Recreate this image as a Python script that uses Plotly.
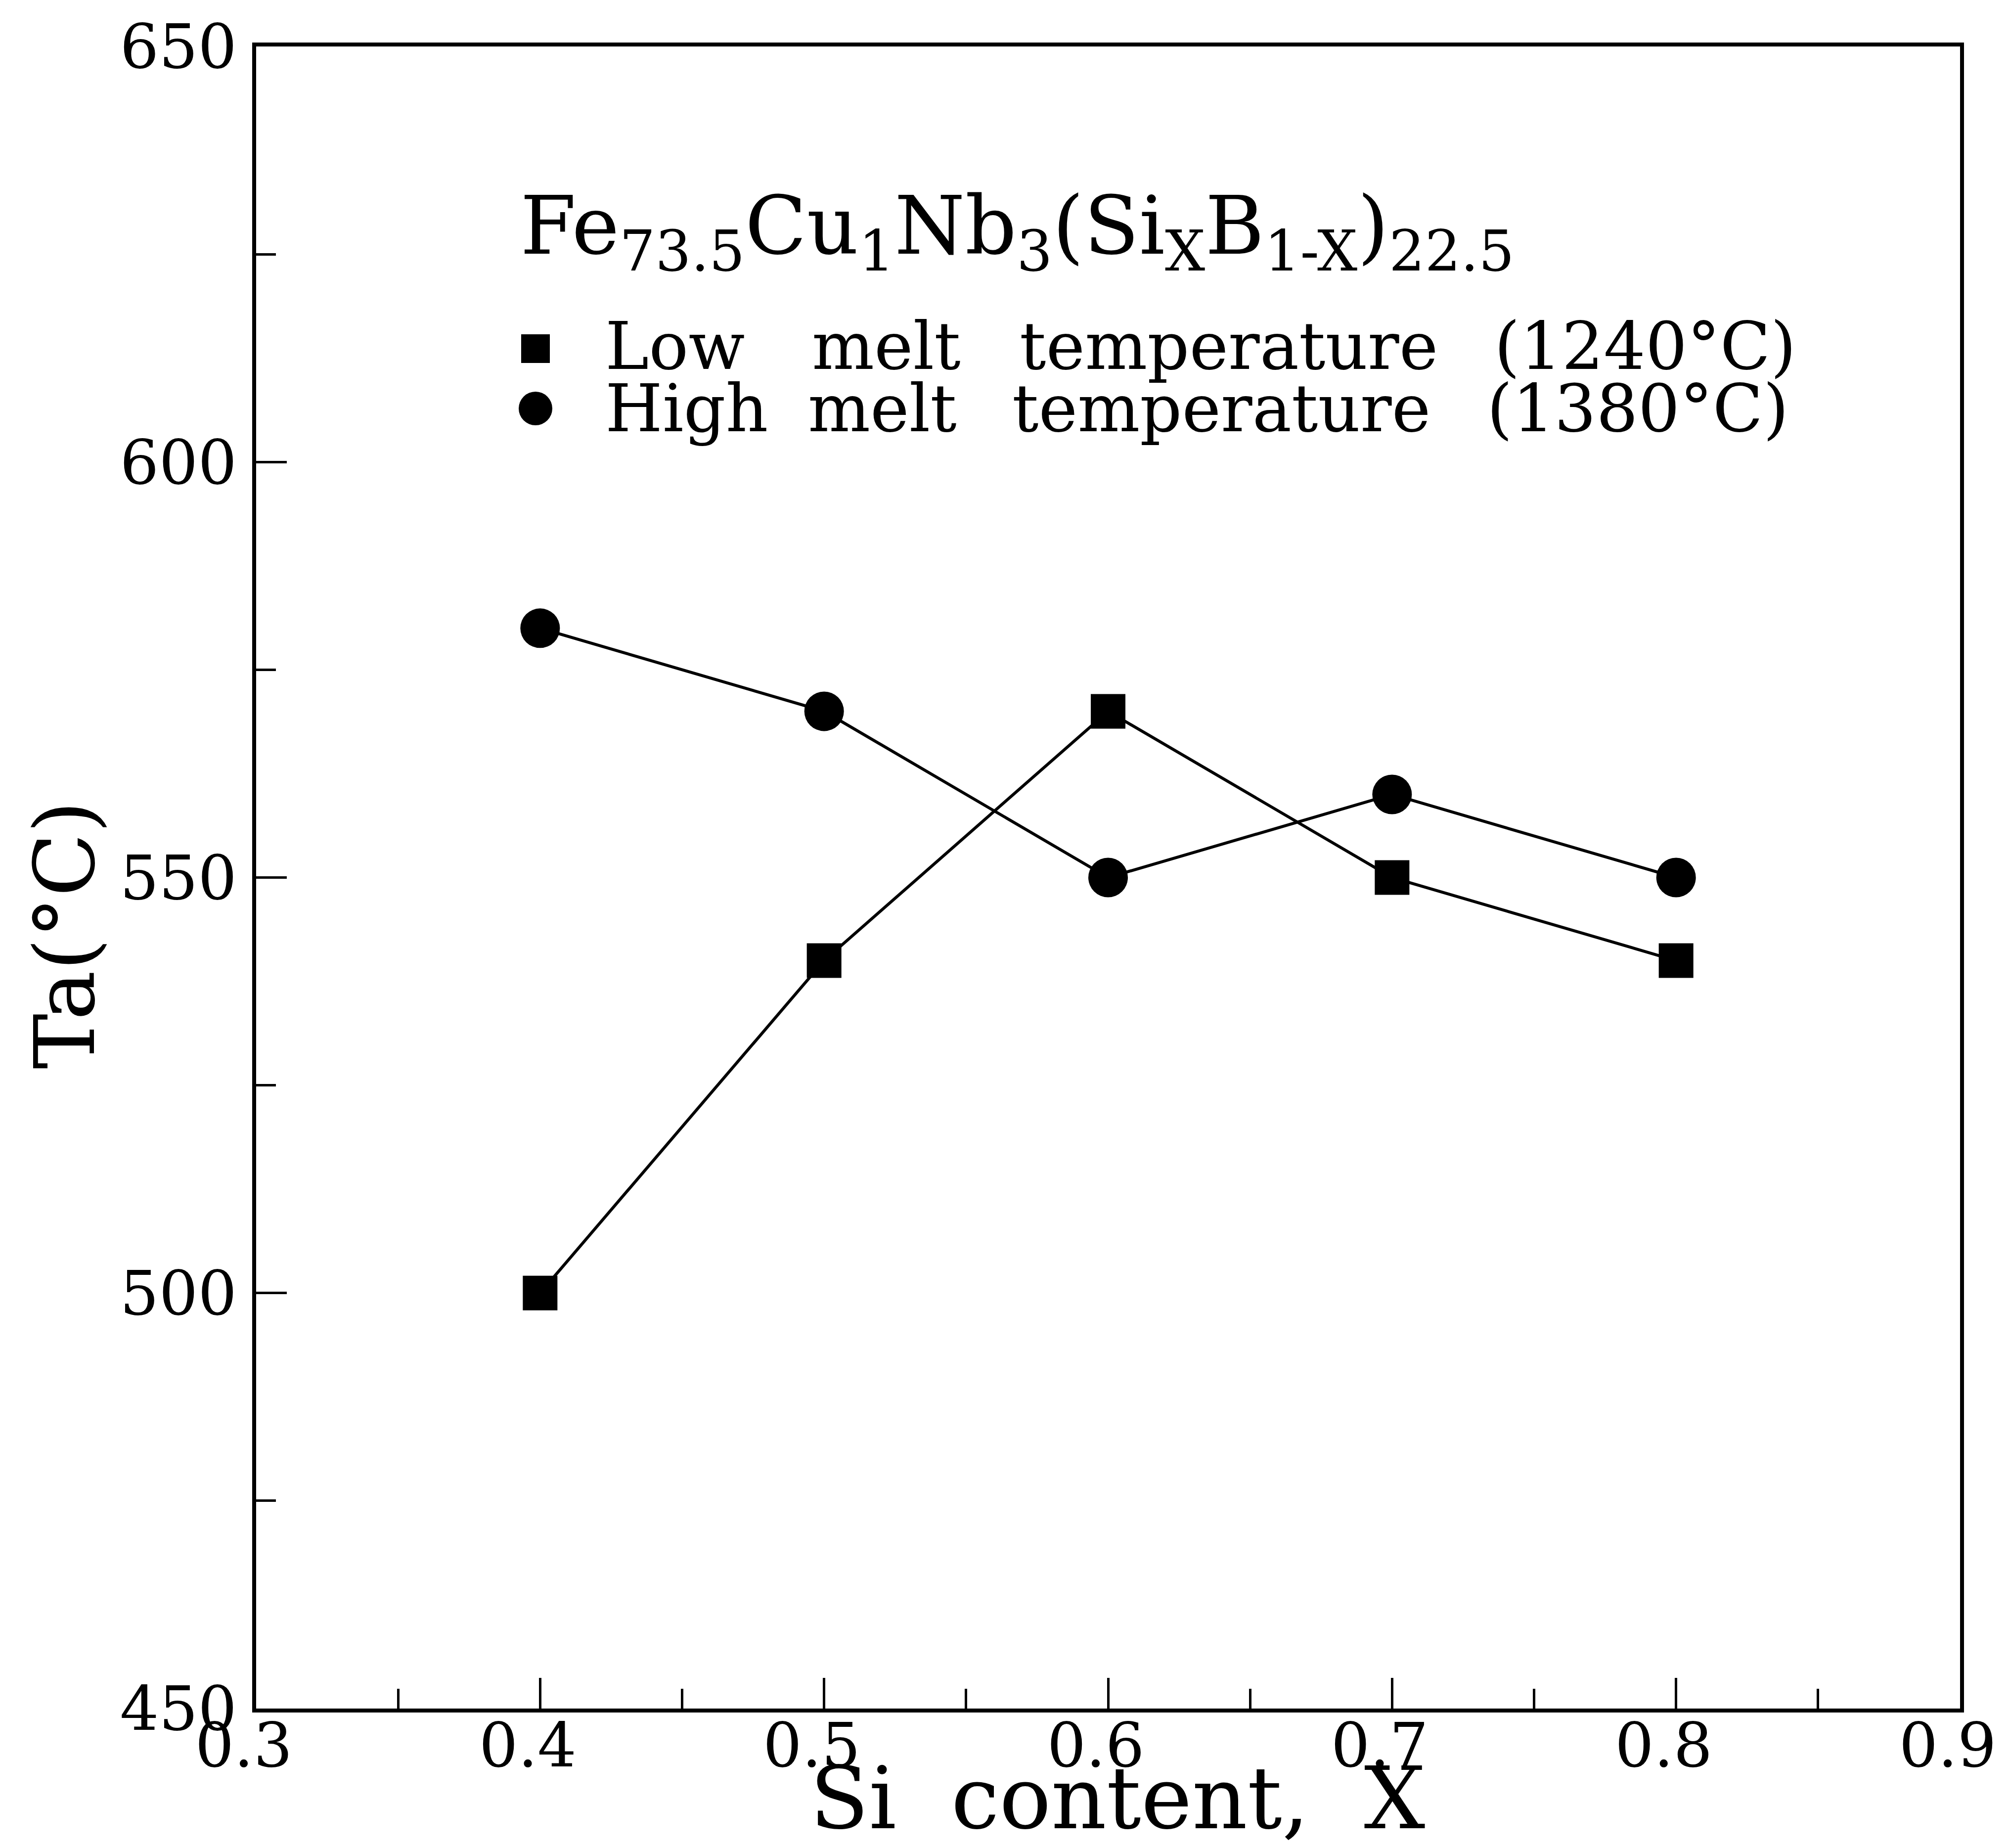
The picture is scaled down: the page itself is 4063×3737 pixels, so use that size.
import plotly.graph_objects as go

# ---- data ----
si_content = [0.4, 0.5, 0.6, 0.7, 0.8]
ta_low_melt = [500, 540, 570, 550, 540]    # Low melt temperature (1240°C)
ta_high_melt = [580, 570, 550, 560, 550]   # High melt temperature (1380°C)

x_range = [0.3, 0.9]
y_range = [450, 650]
x_ticks = [0.3, 0.4, 0.5, 0.6, 0.7, 0.8, 0.9]
y_ticks = [450, 500, 550, 600, 650]

formula = "Fe<sub>73.5</sub>Cu<sub>1</sub>Nb<sub>3</sub>(Si<sub>X</sub>B<sub>1-X</sub>)<sub>22.5</sub>"
legend_low_words = ["Low", "melt", "temperature", "(1240°C)"]
legend_high_words = ["High", "melt", "temperature", "(1380°C)"]
x_title = "Si\u00a0 content,\u00a0 X"
y_title = "Ta(°C)"

# ---- layout geometry (pixels) ----
W, H = 4063, 3737
L, R, T, B = 518, 3964, 94, 3455
FONT = "DejaVu Serif"


def px(x):
    return (x - L) / (R - L)


def py(y):
    return (B - y) / (B - T)


fig = go.Figure()
fig.add_trace(go.Scatter(
    x=si_content, y=ta_low_melt, mode="lines+markers",
    line=dict(color="black", width=6),
    marker=dict(symbol="square", size=70, color="black"),
    showlegend=False))
fig.add_trace(go.Scatter(
    x=si_content, y=ta_high_melt, mode="lines+markers",
    line=dict(color="black", width=6),
    marker=dict(symbol="circle", size=80, color="black",
                line=dict(color="black", width=0)),
    showlegend=False))

axis_common = dict(
    showgrid=False, zeroline=False, showline=True, linecolor="black",
    linewidth=8, mirror=True, ticks="inside", ticklen=62, tickwidth=5,
    tickcolor="black", tickfont=dict(family=FONT, size=124, color="black"),
)

fig.update_xaxes(
    range=x_range, tickvals=x_ticks, tickformat=".1f",
    minor=dict(ticks="inside", ticklen=40, tickwidth=5, tickcolor="black", dtick=0.05),
    ticklabelstandoff=-40, ticklabelshift=-25,
    **axis_common)
fig.update_yaxes(
    range=y_range, tickvals=y_ticks,
    minor=dict(ticks="inside", ticklen=40, tickwidth=5, tickcolor="black", dtick=25),
    ticklabelstandoff=6,
    **axis_common)

annotations = []
# axis titles
annotations.append(dict(
    text=y_title, xref="paper", yref="paper", x=px(132), y=py(1891),
    xanchor="center", yanchor="middle", textangle=-90, showarrow=False,
    font=dict(family=FONT, size=168, color="black")))
annotations.append(dict(
    text=x_title, xref="paper", yref="paper", x=px(2260), y=py(3636),
    xanchor="center", yanchor="middle", showarrow=False,
    font=dict(family=FONT, size=174, color="black")))
# legend title
annotations.append(dict(
    text=formula, xref="paper", yref="paper", x=px(1050), y=py(468),
    xanchor="left", yanchor="middle", showarrow=False,
    font=dict(family=FONT, size=163, color="black")))
# legend entries, word by word
low_x = [1222, 1640, 2060, 3020]
high_x = [1222, 1632, 2045, 3005]
for w, xx in zip(legend_low_words, low_x):
    annotations.append(dict(
        text=w, xref="paper", yref="paper", x=px(xx), y=py(700),
        xanchor="left", yanchor="middle", showarrow=False,
        font=dict(family=FONT, size=133, color="black")))
for w, xx in zip(legend_high_words, high_x):
    annotations.append(dict(
        text=w, xref="paper", yref="paper", x=px(xx), y=py(826),
        xanchor="left", yanchor="middle", showarrow=False,
        font=dict(family=FONT, size=133, color="black")))

shapes = [
    dict(type="rect", xref="paper", yref="paper",
         x0=px(1054), x1=px(1112), y0=py(676), y1=py(734),
         fillcolor="black", line=dict(width=0)),
    dict(type="circle", xref="paper", yref="paper",
         x0=px(1049), x1=px(1117), y0=py(792), y1=py(860),
         fillcolor="black", line=dict(width=0)),
]

fig.update_layout(
    width=W, height=H,
    margin=dict(l=L, r=W - R, t=T, b=H - B, autoexpand=False),
    paper_bgcolor="white", plot_bgcolor="white",
    annotations=annotations, shapes=shapes, showlegend=False,
)

fig.write_html("out.html")
